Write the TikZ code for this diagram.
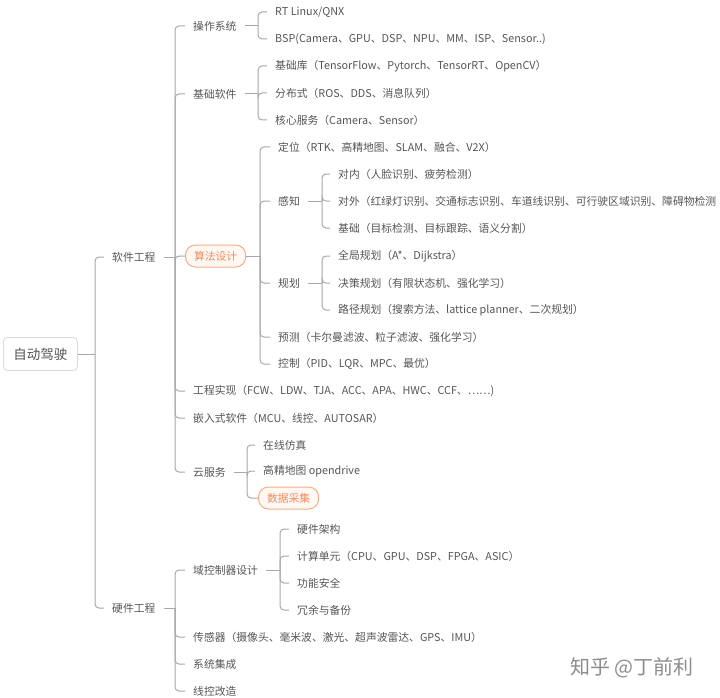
\documentclass[tikz,border=0pt]{standalone}
\usepackage{fontspec}
\setmainfont{Noto Sans CJK SC}
\definecolor{txt}{HTML}{555555}
\definecolor{ln}{HTML}{A8A8A8}
\definecolor{orb}{HTML}{F0B088}
\definecolor{orf}{HTML}{FFF8F2}
\definecolor{ort}{HTML}{EE8C5E}
\definecolor{rootb}{HTML}{DADADA}
\definecolor{wm}{HTML}{8C8C8C}
\tikzset{
  lbl/.style={anchor=west, inner xsep=8pt, inner ysep=2pt, text=txt, font=\fontsize{10.8}{12}\selectfont},
  obox/.style={anchor=west, draw=orb, fill=orf, text=ort, rounded corners=10pt, line width=1pt,
    minimum height=22pt, inner xsep=8.5pt, font=\fontsize{10.8}{12}\selectfont},
  rootbox/.style={draw=rootb, fill=white, rounded corners=4pt, line width=0.8pt, text=txt,
    minimum height=33pt, inner xsep=10pt, font=\fontsize{13.5}{15}\selectfont},
  conn/.style={draw=ln, line width=1pt, rounded corners=4pt},
}
\begin{document}
\begin{tikzpicture}[x=1pt,y=-1pt]
\useasboundingbox (0,0) rectangle (720,698);
% root
\node[rootbox, anchor=west] (root) at (3,354) {自动驾驶};
% level 1
\node[lbl] (sw) at (104,257) {软件工程};
\node[lbl] (hw) at (104,608) {硬件工程};
% software children
\node[lbl] (os) at (185,26) {操作系统};
\node[lbl] (base) at (185,94) {基础软件};
\node[obox] (algo) at (185,256) {算法设计};
\node[lbl] (eng) at (185,391) {工程实现（FCW、LDW、TJA、ACC、APA、HWC、CCF、……)};
\node[lbl] (emb) at (185,418) {嵌入式软件（MCU、线控、AUTOSAR）};
\node[lbl] (cloud) at (185,472) {云服务};
% os
\node[lbl] (rt) at (267,12) {RT Linux/QNX};
\node[lbl] (bsp) at (267,39) {BSP(Camera、GPU、DSP、NPU、MM、ISP、Sensor..)};
% base
\node[lbl] (lib) at (267,66) {基础库（TensorFlow、Pytorch、TensorRT、OpenCV）};
\node[lbl] (dist) at (267,93) {分布式（ROS、DDS、消息队列）};
\node[lbl] (core) at (267,120) {核心服务（Camera、Sensor）};
% algo
\node[lbl] (loc) at (270,147) {定位（RTK、高精地图、SLAM、融合、V2X）};
\node[lbl] (perc) at (270,201) {感知};
\node[lbl] (plan) at (270,283) {规划};
\node[lbl] (pred) at (270,337) {预测（卡尔曼滤波、粒子滤波、强化学习）};
\node[lbl] (ctrl) at (270,364) {控制（PID、LQR、MPC、最优）};
% perception
\node[lbl] (pin) at (330,174) {对内（人脸识别、疲劳检测）};
\node[lbl] (pout) at (330,201) {对外（红绿灯识别、交通标志识别、车道线识别、可行驶区域识别、障碍物检测};
\node[lbl] (pbas) at (330,228) {基础（目标检测、目标跟踪、语义分割）};
% planning
\node[lbl] (glob) at (330,256) {全局规划（A*、Dijkstra）};
\node[lbl] (dec) at (330,283) {决策规划（有限状态机、强化学习）};
\node[lbl] (path) at (330,310) {路径规划（搜索方法、lattice planner、二次规划）};
% cloud
\node[lbl] (sim) at (255,445) {在线仿真};
\node[lbl] (hd) at (255,471) {高精地图 opendrive};
\node[obox] (data) at (258,498) {数据采集};
% hardware
\node[lbl] (dom) at (185,570) {域控制器设计};
\node[lbl] (sens) at (185,637) {传感器（摄像头、毫米波、激光、超声波雷达、GPS、IMU）};
\node[lbl] (integ) at (185,664) {系统集成};
\node[lbl] (wire) at (185,691) {线控改造};
\node[lbl] (arch) at (289,529) {硬件架构};
\node[lbl] (comp) at (289,556) {计算单元（CPU、GPU、DSP、FPGA、ASIC）};
\node[lbl] (safe) at (289,583) {功能安全};
\node[lbl] (red) at (289,610) {冗余与备份};
% watermark
\node[anchor=west, text=wm, inner sep=0pt, font=\fontsize{20}{22}\selectfont] (wmk) at (570,668) {知乎 @丁前利};
% bar coordinates
\coordinate (broot) at (95,354);
\coordinate (bsw) at (175,257);
\coordinate (bhw) at (175,608);
\coordinate (bos) at (258,26);
\coordinate (bbase) at (258,94);
\coordinate (balgo) at (260,256);
\coordinate (bperc) at (322,201);
\coordinate (bplan) at (322,283);
\coordinate (bcloud) at (247,472);
\coordinate (bdom) at (280,570);
% connectors
\draw[conn] (root.east) -- (broot);
\foreach \c in {sw,hw} \draw[conn] (broot) |- (\c.west);
\draw[conn] (sw.east) -- (bsw);
\foreach \c in {os,base,algo,eng,emb,cloud} \draw[conn] (bsw) |- (\c.west);
\draw[conn] (hw.east) -- (bhw);
\foreach \c in {dom,sens,integ,wire} \draw[conn] (bhw) |- (\c.west);
\draw[conn] (os.east) -- (bos);
\foreach \c in {rt,bsp} \draw[conn] (bos) |- (\c.west);
\draw[conn] (base.east) -- (bbase);
\foreach \c in {lib,dist,core} \draw[conn] (bbase) |- (\c.west);
\draw[conn] (algo.east) -- (balgo);
\foreach \c in {loc,perc,plan,pred,ctrl} \draw[conn] (balgo) |- (\c.west);
\draw[conn] (perc.east) -- (bperc);
\foreach \c in {pin,pout,pbas} \draw[conn] (bperc) |- (\c.west);
\draw[conn] (plan.east) -- (bplan);
\foreach \c in {glob,dec,path} \draw[conn] (bplan) |- (\c.west);
\draw[conn] (cloud.east) -- (bcloud);
\foreach \c in {sim,hd,data} \draw[conn] (bcloud) |- (\c.west);
\draw[conn] (dom.east) -- (bdom);
\foreach \c in {arch,comp,safe,red} \draw[conn] (bdom) |- (\c.west);
\end{tikzpicture}
\end{document}
